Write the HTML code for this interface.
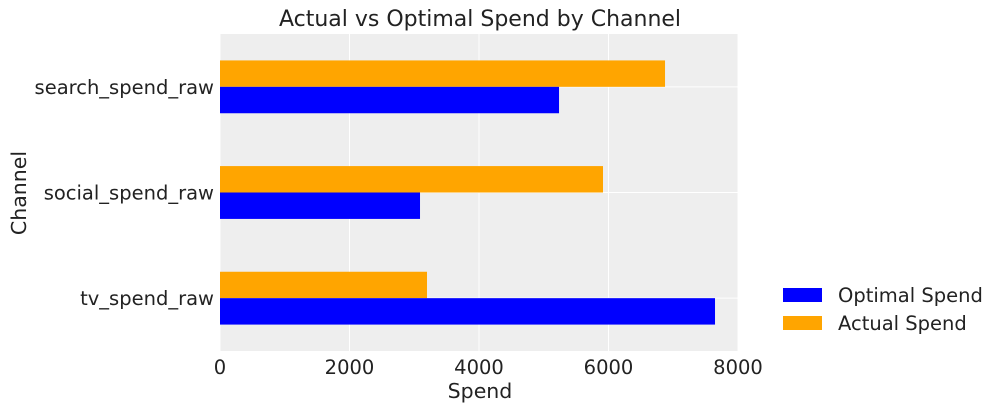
<!DOCTYPE html>
<html><head><meta charset="utf-8">
<style>
body{margin:0;background:#fff;}
svg text{font-family:"DejaVu Sans","Liberation Sans",sans-serif;fill:#222;}
</style></head>
<body>
<svg id="chart" width="1000" height="411" viewBox="0 0 1000 411" xmlns="http://www.w3.org/2000/svg">
<text x="480" y="26" font-size="22" text-anchor="middle">Actual vs Optimal Spend by Channel</text>
<rect x="220" y="34" width="518" height="317" fill="#eeeeee"/>
<g id="grid"></g>
<g id="bars"></g>
<g id="ticks"></g>
<text x="480" y="398" font-size="20.5" text-anchor="middle">Spend</text>
<text transform="translate(26,193) rotate(-90)" font-size="20.5" text-anchor="middle">Channel</text>
<g>
<rect x="783" y="288" width="39" height="14" fill="#0000ff"/>
<text x="838" y="302" font-size="19.5">Optimal Spend</text>
<rect x="783" y="316" width="39" height="14" fill="#ffa500"/>
<text x="838" y="330" font-size="19.5">Actual Spend</text>
</g>
</svg>
<script>
const categories=["tv_spend_raw","social_spend_raw","search_spend_raw"];
const optimalSpend=[7645,3089,5236];
const actualSpend=[3197,5915,6873];
const xTicks=[0,2000,4000,6000,8000];
const NS="http://www.w3.org/2000/svg";
const x0=220,x1=738,xMax=8000,yTop=34,yBot=351;
const xs=v=>x0+(v/xMax)*(x1-x0);
const ys=i=>yBot-(i+0.5)*(yBot-yTop)/categories.length;
const step=(yBot-yTop)/categories.length, bh=step*0.25;
function mk(tag,attrs,parent){const e=document.createElementNS(NS,tag);for(const k in attrs)e.setAttribute(k,attrs[k]);parent.appendChild(e);return e;}
const grid=document.getElementById('grid'),bars=document.getElementById('bars'),ticks=document.getElementById('ticks');
xTicks.forEach(t=>{
 const l=mk('line',{x1:xs(t),x2:xs(t),y1:yTop,y2:yBot,stroke:'#fff','stroke-width':1},grid);
 
 
 const tx=mk('text',{x:xs(t),y:374,'font-size':19.5,'text-anchor':'middle'},ticks);
 tx.textContent=t;
 
 
});
categories.forEach((c,i)=>{
 const cy=ys(i);
 const l=mk('line',{x1:x0,x2:x1,y1:cy,y2:cy,stroke:'#fff','stroke-width':1},grid);
 
 
 const a=mk('rect',{x:x0,y:cy-bh,width:xs(actualSpend[i])-x0,height:bh,fill:'#ffa500'},bars);
 
 
 const o=mk('rect',{x:x0,y:cy,width:xs(optimalSpend[i])-x0,height:bh,fill:'#0000ff'},bars);
 
 
 const tx=mk('text',{x:214,y:cy+7,'font-size':19.5,'text-anchor':'end'},ticks);
 tx.textContent=c;
 
 
});
</script>
</body></html>
